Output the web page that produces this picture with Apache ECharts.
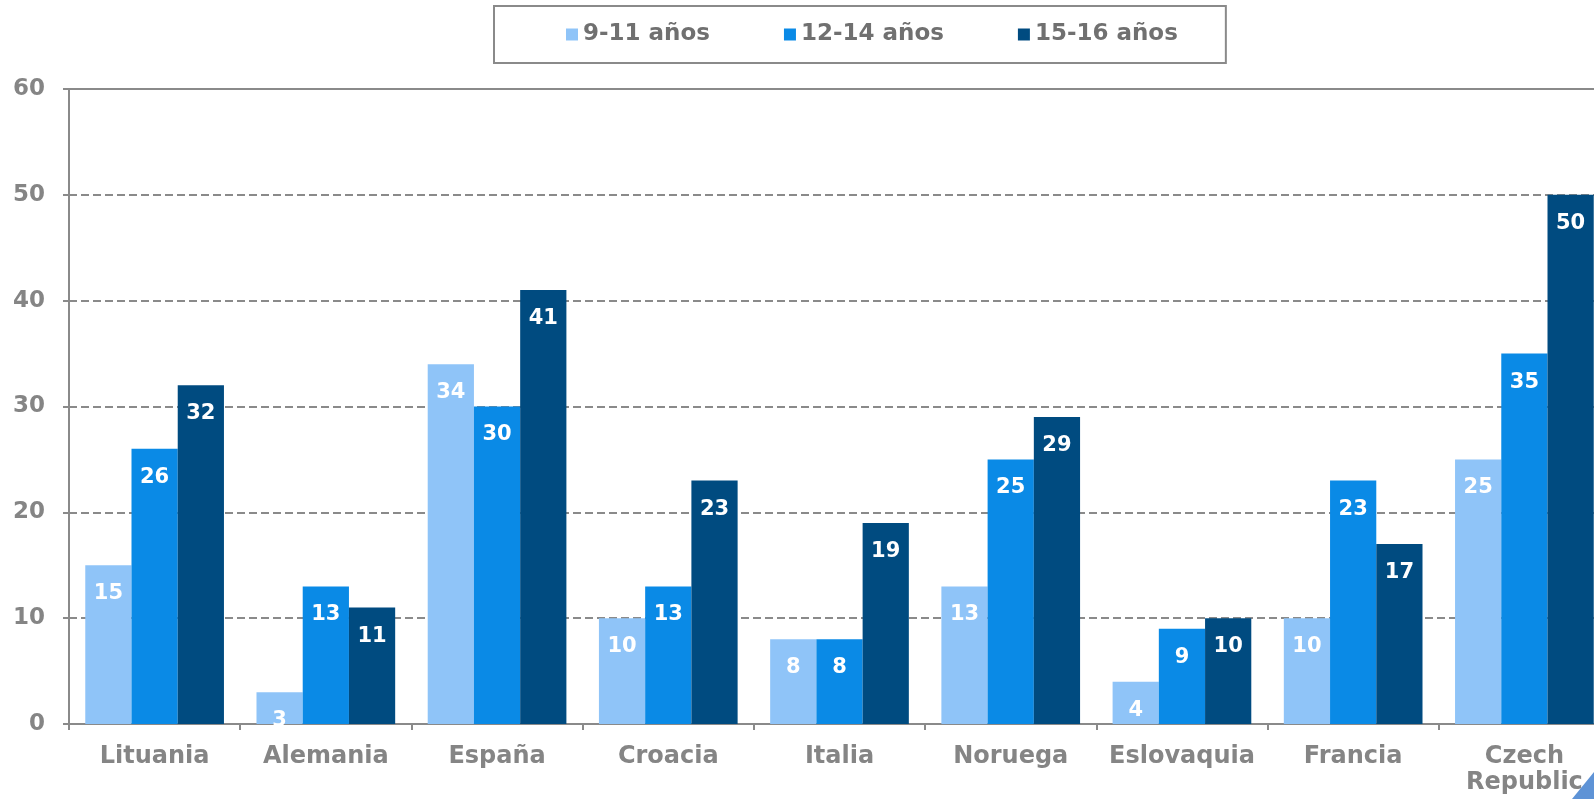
<!DOCTYPE html>
<html>
<head>
<meta charset="utf-8">
<script src="https://cdn.jsdelivr.net/npm/echarts@6/dist/echarts.min.js"></script>
<style>
  html, body { margin: 0; padding: 0; background: #fff; }
  #main { width: 1594px; height: 799px; }
</style>
</head>
<body>
<div id="main"></div>
<script>
// categories and values
var countries = ['Lituania', 'Alemania', 'España', 'Croacia', 'Italia', 'Noruega', 'Eslovaquia', 'Francia', 'Czech\nRepublic'];
var age9to11 = [15, 3, 34, 10, 8, 13, 4, 10, 25];
var age12to14 = [26, 13, 30, 13, 8, 25, 9, 23, 35];
var age15to16 = [32, 11, 41, 23, 19, 29, 10, 17, 50];
var yTicks = [0, 10, 20, 30, 40, 50, 60];

var font = '"DejaVu Sans", Verdana, sans-serif';
var gray = '#858585';

function barSeries(name, data, color) {
	return {
		name: name,
		type: 'bar',
		data: data,
		barGap: '0%',
		barCategoryGap: '19%',
		itemStyle: { color: color },
		label: {
			show: true,
			position: 'insideTop',
			distance: 18,
			color: '#fff',
			fontFamily: font,
			fontWeight: 'bold',
			fontSize: 21
		}
	};
}

var myChart = echarts.init(document.getElementById('main'));
myChart.setOption({
	animation: false,
	legend: {
		left: 494,
		top: 6,
		padding: [17, 48, 17, 72],
		itemGap: 74,
		itemWidth: 12,
		itemHeight: 12,
		icon: 'rect',
		borderColor: '#8a8a8a',
		borderWidth: 2,
		textStyle: { fontFamily: font, fontWeight: 'bold', fontSize: 23, color: '#707070' },
		data: ['9-11 años', '12-14 años', '15-16 años']
	},
	// the plot runs past the right edge of the picture
	grid: { left: 69, width: 1541, top: 89, bottom: 75, outerBoundsMode: 'none', containLabel: false },
	xAxis: [{
		type: 'category',
		data: countries,
		axisLine: { lineStyle: { color: '#8a8a8a', width: 2 } },
		axisTick: { show: true, length: 6, lineStyle: { color: '#8a8a8a', width: 2 } },
		axisLabel: { color: gray, fontFamily: font, fontWeight: 'bold', fontSize: 24, margin: 20, lineHeight: 26, interval: 0 }
	}, {
		type: 'category',
		position: 'top',
		data: countries,
		axisLine: { lineStyle: { color: '#8a8a8a', width: 2 } },
		axisTick: { show: false },
		axisLabel: { show: false }
	}],
	yAxis: {
		type: 'value',
		min: yTicks[0],
		max: yTicks[yTicks.length - 1],
		interval: 10,
		axisLine: { show: true, lineStyle: { color: '#8a8a8a', width: 2 } },
		axisTick: { show: true, length: 6, lineStyle: { color: '#8a8a8a', width: 2 } },
		axisLabel: { color: gray, fontFamily: font, fontWeight: 'bold', fontSize: 23, margin: 24 },
		splitLine: { lineStyle: { color: '#8a8a8a', width: 2, type: [8, 4] } }
	},
	// page-curl corner in the bottom right
	graphic: [{
		type: 'polygon',
		z: 100,
		shape: { points: [[1594, 772], [1594, 799], [1572, 799]] },
		style: { fill: '#5e93d6' }
	}],
	series: [
		barSeries('9-11 años', age9to11, '#8fc4f8'),
		barSeries('12-14 años', age12to14, '#0a8ae6'),
		barSeries('15-16 años', age15to16, '#004b80')
	]
});
</script>
</body>
</html>
